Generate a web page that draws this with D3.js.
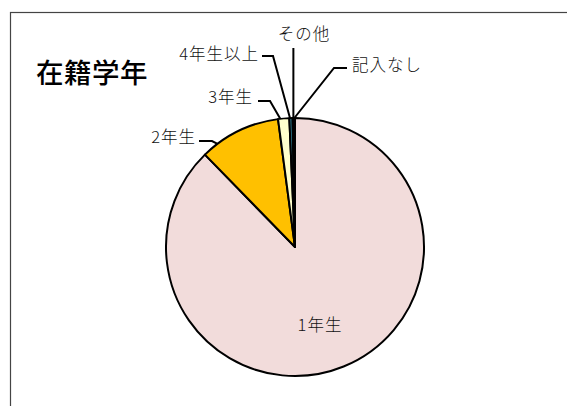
<!DOCTYPE html>
<html>
<head>
<meta charset="utf-8">
<script src="https://cdn.jsdelivr.net/npm/d3@7"></script>
<style>
  html, body { margin: 0; padding: 0; background: #fff; }
  svg { display: block; }
  text { font-family: "Noto Sans CJK JP", "Noto Sans", sans-serif; }
</style>
</head>
<body>
<svg id="chart" width="567" height="406"></svg>
<script>
// ---- data ----
const categories = ["1年生", "2年生", "3年生", "4年生以上", "その他", "記入なし"];
const values = [87.7, 10.2, 1.4, 0.4, 0.2, 0.1];
const colors = ["#F2DCDB", "#FFC000", "#FFFFCC", "#31859C", "#17375E", "#4F6F7F"];
const title = "在籍学年";

// ---- layout (label placement) ----
const labelLayout = [
  { tx: 320, ty: 324, anchor: "middle", inside: true },
  { tx: 196, ty: 136, anchor: "end", elbow: [[199, 141], [212, 141]] },
  { tx: 253, ty: 96, anchor: "end", elbow: [[258, 101], [270, 101]] },
  { tx: 259, ty: 53, anchor: "end", elbow: [[262, 56], [273, 56]] },
  { tx: 304, ty: 33, anchor: "middle", elbow: "vertical", top: 48 },
  { tx: 352, ty: 64, anchor: "start", elbow: [[347, 68], [334, 68]] }
];

const svg = d3.select("#chart");
const cx = 295, cy = 247, r = 129;

// frame
svg.append("rect")
  .attr("x", 10.5).attr("y", 12.5)
  .attr("width", 620).attr("height", 450)
  .attr("fill", "none").attr("stroke", "#444").attr("stroke-width", 1.2);

// title
svg.append("text")
  .attr("x", 36).attr("y", 71)
  .attr("dominant-baseline", "central")
  .attr("font-size", 27.5)
  .attr("font-weight", 500)
  .attr("letter-spacing", 0.5)
  .attr("fill", "#000")
  .text(title);

const data = categories.map((c, i) => ({ name: c, value: values[i], color: colors[i], lay: labelLayout[i] }));

const pie = d3.pie().sort(null).value(d => d.value);
const arcs = pie(data);
const arc = d3.arc().innerRadius(0).outerRadius(r);

const g = svg.append("g").attr("transform", `translate(${cx},${cy})`);

g.selectAll("path.slice")
  .data(arcs)
  .join("path")
  .attr("class", "slice")
  .attr("d", arc)
  .attr("fill", d => d.data.color)
  .attr("stroke", "#000")
  .attr("stroke-width", 2)
  .attr("stroke-linejoin", "round");

// leader lines
function edgePoint(a, near) {
  const mid = (a.startAngle + a.endAngle) / 2;
  const half = (a.endAngle - a.startAngle) * 0.3;
  let ang = mid;
  if (near) {
    ang = Math.atan2(near[0] - cx, -(near[1] - cy));
    if (ang < 0) ang += 2 * Math.PI;
    ang = Math.max(mid - half, Math.min(mid + half, ang));
  }
  return [cx + r * Math.sin(ang), cy - r * Math.cos(ang)];
}

arcs.forEach(a => {
  const lay = a.data.lay;
  if (lay.inside) return;
  let pts;
  if (lay.elbow === "vertical") {
    const p = edgePoint(a);
    pts = [[p[0], lay.top], p];
  } else {
    const last = lay.elbow[lay.elbow.length - 1];
    pts = lay.elbow.concat([edgePoint(a, last)]);
  }
  svg.append("path")
    .attr("d", d3.line()(pts))
    .attr("fill", "none")
    .attr("stroke", "#000")
    .attr("stroke-width", 2);
});

// labels
svg.selectAll("text.lbl")
  .data(data)
  .join("text")
  .attr("class", "lbl")
  .attr("x", d => d.lay.tx)
  .attr("y", d => d.lay.ty)
  .attr("text-anchor", d => d.lay.anchor)
  .attr("dominant-baseline", "central")
  .attr("font-size", 16.5)
  .attr("font-weight", 300)
  .attr("letter-spacing", 1)
  .attr("fill", "#111")
  .text(d => d.name);
</script>
</body>
</html>
